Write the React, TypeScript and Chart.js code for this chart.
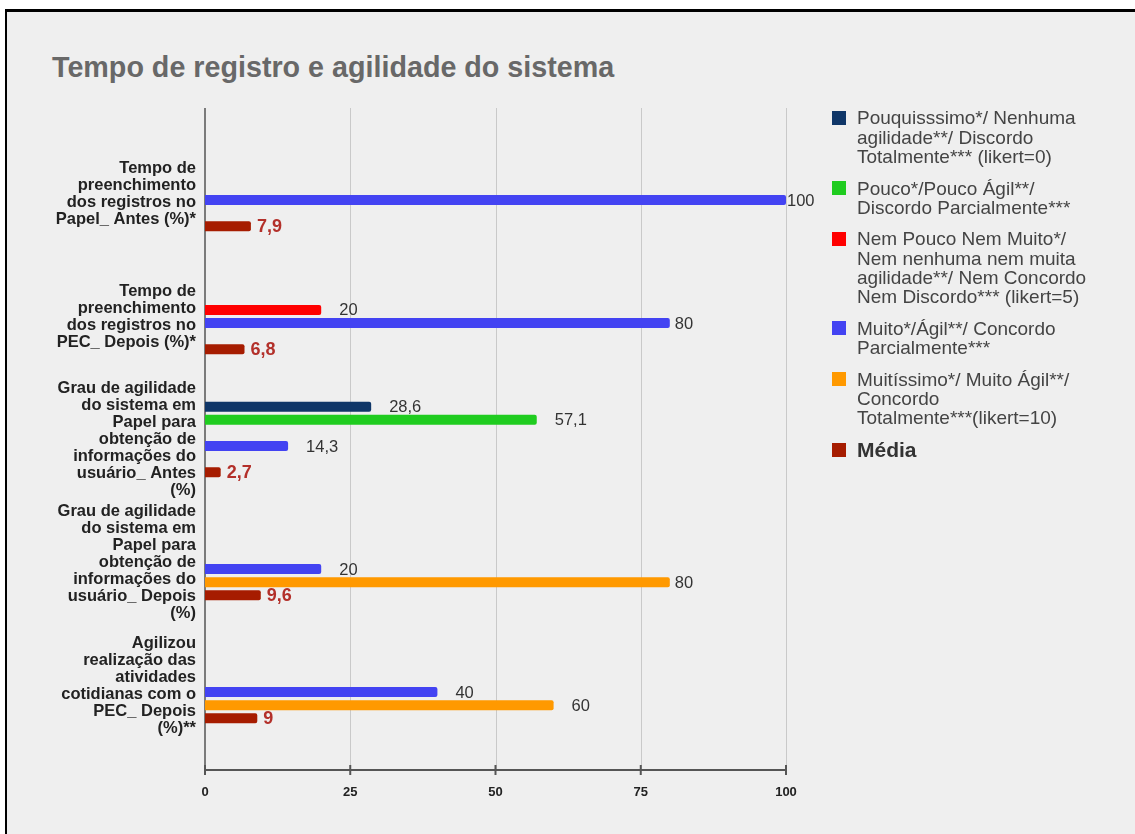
import React, { useEffect, useRef } from "react";
import { Chart, registerables } from "chart.js";

Chart.register(...registerables);

const FONT = "'Liberation Sans', Arial, sans-serif";

const TITLE = "Tempo de registro e agilidade do sistema";

const categories: string[][] = [
  ["Tempo de", "preenchimento", "dos registros no", "Papel_ Antes (%)*"],
  ["Tempo de", "preenchimento", "dos registros no", "PEC_ Depois (%)*"],
  ["Grau de agilidade", "do sistema em", "Papel para", "obtenção de", "informações do", "usuário_ Antes", "(%)"],
  ["Grau de agilidade", "do sistema em", "Papel para", "obtenção de", "informações do", "usuário_ Depois", "(%)"],
  ["Agilizou", "realização das", "atividades", "cotidianas com o", "PEC_ Depois", "(%)**"],
];

const seriesNames: string[][] = [
  ["Pouquisssimo*/ Nenhuma", "agilidade**/ Discordo", "Totalmente*** (likert=0)"],
  ["Pouco*/Pouco Ágil**/", "Discordo Parcialmente***"],
  ["Nem Pouco Nem Muito*/", "Nem nenhuma nem muita", "agilidade**/ Nem Concordo", "Nem Discordo*** (likert=5)"],
  ["Muito*/Ágil**/ Concordo", "Parcialmente***"],
  ["Muitíssimo*/ Muito Ágil**/", "Concordo", "Totalmente***(likert=10)"],
  ["Média"],
];

const pouquissimo: (number | null)[] = [null, null, 28.6, null, null];
const pouco: (number | null)[] = [null, null, 57.1, null, null];
const nemPoucoNemMuito: (number | null)[] = [null, 20, null, null, null];
const muito: (number | null)[] = [100, 80, 14.3, 20, 40];
const muitissimo: (number | null)[] = [null, null, null, 80, 60];
const media: (number | null)[] = [7.9, 6.8, 2.7, 9.6, 9];

const xTicks: number[] = [0, 25, 50, 75, 100];

const colors = ["#0f3668", "#1fcc1f", "#ff0000", "#4343f2", "#ff9900", "#a61c00"];
const MEAN_LABEL_COLOR = "#b3302a";

const fmt = (v: number) => String(v).replace(".", ",");

const gridPlugin = {
  id: "gdGrid",
  beforeDatasetsDraw(chart: any) {
    const { ctx, chartArea } = chart;
    const x = chart.scales.x;
    const top = chartArea.top - 24;
    const bottom = chartArea.bottom + 23;
    ctx.save();
    for (const v of xTicks) {
      if (v === 0) continue;
      const px = Math.round(x.getPixelForValue(v)) + 0.5;
      ctx.strokeStyle = "#c9c9c9";
      ctx.lineWidth = 1;
      ctx.beginPath();
      ctx.moveTo(px, top);
      ctx.lineTo(px, bottom);
      ctx.stroke();
    }
    const x0 = x.getPixelForValue(0);
    const x1 = x.getPixelForValue(100);
    ctx.strokeStyle = "#555";
    ctx.lineWidth = 1.5;
    ctx.beginPath();
    ctx.moveTo(x0, top);
    ctx.lineTo(x0, bottom + 5);
    ctx.stroke();
    ctx.lineWidth = 2;
    ctx.beginPath();
    ctx.moveTo(x0, bottom);
    ctx.lineTo(x1, bottom);
    ctx.stroke();
    for (const v of xTicks) {
      const px = x.getPixelForValue(v);
      ctx.beginPath();
      ctx.moveTo(px, bottom - 5);
      ctx.lineTo(px, bottom + 5);
      ctx.stroke();
    }
    ctx.restore();
  },
};

const labelPlugin = {
  id: "gdLabels",
  afterDatasetsDraw(chart: any) {
    const { ctx } = chart;
    ctx.save();
    ctx.textAlign = "left";
    ctx.textBaseline = "middle";
    chart.data.datasets.forEach((ds: any, i: number) => {
      const meta = chart.getDatasetMeta(i);
      const isMean = i === chart.data.datasets.length - 1;
      meta.data.forEach((bar: any, j: number) => {
        const v = ds.data[j];
        if (v === null || v === undefined) return;
        let off: number;
        if (isMean) {
          ctx.font = `bold 18px ${FONT}`;
          ctx.fillStyle = MEAN_LABEL_COLOR;
          off = 6;
        } else {
          ctx.font = `16.5px ${FONT}`;
          ctx.fillStyle = "#333";
          off = v >= 100 ? 1 : v >= 75 ? 5 : 18;
        }
        ctx.fillText(fmt(v), bar.x + off, bar.y + 1);
      });
    });
    ctx.restore();
  },
};

export default function App() {
  const ref = useRef<HTMLCanvasElement | null>(null);

  useEffect(() => {
    if (!ref.current) return;
    Chart.defaults.font.family = FONT;
    const seriesData = [pouquissimo, pouco, nemPoucoNemMuito, muito, muitissimo, media];
    const chart = new Chart(ref.current, {
      type: "bar",
      data: {
        labels: categories as any,
        datasets: seriesData.map((d, i) => ({
          label: seriesNames[i].join(" "),
          data: d,
          backgroundColor: colors[i],
          borderRadius: 2,
          categoryPercentage: 0.64,
          barPercentage: 0.77,
        })),
      },
      options: {
        indexAxis: "y",
        responsive: false,
        animation: false,
        devicePixelRatio: 1,
        layout: { padding: { top: 132, right: 349, left: 0, bottom: 0 } },
        plugins: {
          legend: { display: false },
          tooltip: { enabled: false },
          title: { display: false },
        },
        scales: {
          x: {
            type: "linear",
            min: 0,
            max: 100,
            grid: { display: false, drawTicks: false },
            border: { display: false },
            ticks: {
              stepSize: 25,
              padding: 38,
              color: "#222",
              font: { size: 13, weight: "bold", family: FONT },
            },
            afterFit: (s: any) => {
              s.height = 87;
            },
          },
          y: {
            type: "category",
            grid: { display: false, drawTicks: false },
            border: { display: false },
            ticks: {
              autoSkip: false,
              padding: 9,
              color: "#222",
              font: { size: 16.5, weight: "bold", family: FONT, lineHeight: "17px" },
            },
            afterFit: (s: any) => {
              s.width = 205;
            },
          },
        },
      },
      plugins: [gridPlugin, labelPlugin],
    });
    return () => chart.destroy();
  }, []);

  return (
    <div
      style={{
        position: "fixed",
        left: 0,
        top: 0,
        width: 1135,
        height: 834,
        overflow: "hidden",
        background: "#fff",
        fontFamily: FONT,
      }}
    >
      <div
        style={{
          position: "absolute",
          left: 5,
          top: 9,
          width: 1140,
          height: 840,
          borderLeft: "2.5px solid #000",
          borderTop: "3px solid #000",
          background: "#efefef",
        }}
      />
      <div
        style={{
          position: "absolute",
          left: 52,
          top: 53,
          fontSize: 28.7,
          lineHeight: "28.7px",
          fontWeight: "bold",
          color: "#686868",
          whiteSpace: "nowrap",
        }}
      >
        {TITLE}
      </div>
      <canvas
        ref={ref}
        width={1135}
        height={834}
        style={{ position: "absolute", left: 0, top: 0, width: 1135, height: 834 }}
      />
      <div
        style={{
          position: "absolute",
          left: 832,
          top: 108.4,
          display: "flex",
          flexDirection: "column",
          gap: 12.5,
        }}
      >
        {seriesNames.map((lines, i) => {
          const isMean = i === seriesNames.length - 1;
          const lh = isMean ? 20 : 19.2;
          return (
            <div key={i} style={{ display: "flex", alignItems: "flex-start" }}>
              <div
                style={{
                  width: 14,
                  height: 14,
                  marginTop: (lh - 14) / 2,
                  background: colors[i],
                  flex: "0 0 auto",
                }}
              />
              <div
                style={{
                  marginLeft: 11,
                  fontSize: isMean ? 21 : 19,
                  lineHeight: `${lh}px`,
                  fontWeight: isMean ? "bold" : "normal",
                  color: isMean ? "#333" : "#444",
                  whiteSpace: "nowrap",
                }}
              >
                {lines.map((l, k) => (
                  <div key={k}>{l}</div>
                ))}
              </div>
            </div>
          );
        })}
      </div>
    </div>
  );
}
